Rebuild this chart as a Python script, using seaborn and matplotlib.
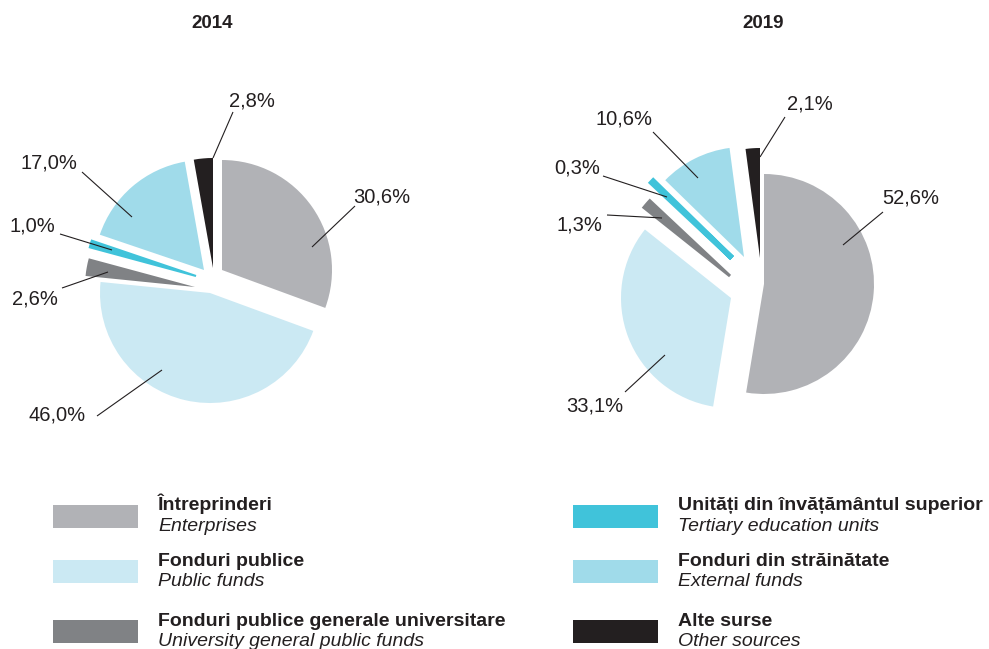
import matplotlib
matplotlib.use("Agg")
import matplotlib.pyplot as plt
from matplotlib.patches import Rectangle
import seaborn as sns

# Funding sources (Romanian label, English label)
sources_ro = ["Întreprinderi", "Fonduri publice", "Fonduri publice generale universitare",
              "Unități din învățământul superior", "Fonduri din străinătate", "Alte surse"]
sources_en = ["Enterprises", "Public funds", "University general public funds",
              "Tertiary education units", "External funds", "Other sources"]

# Shares of R&D expenditure by source of funds (%)
years = ["2014", "2019"]
shares_2014 = [30.6, 46.0, 2.6, 1.0, 17.0, 2.8]
shares_2019 = [52.6, 33.1, 1.3, 0.3, 10.6, 2.1]

palette = ["#b1b2b6", "#cbe9f3", "#808285", "#40c3da", "#a0dbea", "#231f20"]

sns.set_theme(style="white")
plt.rcParams["font.family"] = ["Liberation Sans", "DejaVu Sans"]

W, H = 989, 649
fig = plt.figure(figsize=(W / 100, H / 100), dpi=100)
ax = fig.add_axes([0, 0, 1, 1])


def Y(y):
    """Pixel row (from top) to data y."""
    return H - y


INK = "#231f20"
RADIUS = 110

# Layout of each pie: centre, per-slice displacement, extra stroke for thin slices,
# and label anchor / leader line for each slice
layouts = {
    "2014": dict(
        center=(214, 276),
        shift=[(8, -6), (-4, 17), (-19, 11), (-18, 0), (-10, -6), (-1, -8)],
        stroke=[0, 0, 0, 1.5, 0, 0],
        text=[(382, 197), (57, 415), (35, 299), (32, 226), (49, 163), (252, 101)],
        lines=[((312, 247), (355, 206)), ((162, 370), (97, 416)), ((108, 272), (62, 288)),
               ((112, 250), (60, 234)), ((132, 217), (82, 172)), ((213, 158), (233, 112))],
        title=(212, 28),
    ),
    "2019": dict(
        center=(748, 280),
        shift=[(16, 4), (-17, 18), (-18, -4), (-16, -22), (-4, -23), (12, -22)],
        stroke=[0, 0, 2.2, 4.0, 0, 0],
        text=[(911, 198), (595, 406), (579, 225), (577, 168), (624, 119), (810, 104)],
        lines=[((843, 245), (883, 212)), ((665, 355), (625, 392)), ((662, 218), (607, 215)),
               ((667, 197), (603, 176)), ((698, 178), (653, 132)), ((760, 157), (785, 117))],
        title=(763, 28),
    ),
}

for year, shares in zip(years, [shares_2014, shares_2019]):
    lay = layouts[year]
    cx, cy = lay["center"]
    wedges, _ = ax.pie(shares, colors=palette, startangle=90, counterclock=False,
                       radius=RADIUS, center=(cx, Y(cy)), frame=True,
                       wedgeprops=dict(linewidth=0))
    for w, (dx, dy), lw, col in zip(wedges, lay["shift"], lay["stroke"], palette):
        w.set_center((cx + dx, Y(cy + dy)))
        if lw:
            w.set_edgecolor(col)
            w.set_linewidth(lw)
    for v, (tx, ty), ((x1, y1), (x2, y2)) in zip(shares, lay["text"], lay["lines"]):
        ax.plot([x1, x2], [Y(y1), Y(y2)], color=INK, lw=0.8, solid_capstyle="butt")
        ax.text(tx, Y(ty), f"{v:.1f}".replace(".", ",") + "%", ha="center", va="center",
                fontsize=14.5, color=INK)
    tx, ty = lay["title"]
    ax.text(tx, Y(ty), year, ha="center", va="baseline", fontsize=13.5,
            fontweight="bold", color=INK)

# Legend: two columns of swatches with bilingual labels
legend_cols = [(53, 158), (573, 678)]
row_tops = [505, 560, 620]
row_baselines = [(510, 531), (566, 586), (626, 646)]
for i, (ro, en, col) in enumerate(zip(sources_ro, sources_en, palette)):
    sx, tx = legend_cols[i // 3]
    top = row_tops[i % 3]
    b1, b2 = row_baselines[i % 3]
    ax.add_patch(Rectangle((sx, Y(top + 23)), 85, 23, facecolor=col, edgecolor="none"))
    ax.text(tx, Y(b1), ro, ha="left", va="baseline", fontsize=14,
            fontweight="bold", color=INK)
    ax.text(tx, Y(b2), en, ha="left", va="baseline", fontsize=14,
            style="italic", color=INK)

ax.set_xlim(0, W)
ax.set_ylim(0, H)
ax.axis("off")

fig.savefig("out.png", dpi=100, facecolor="white")
